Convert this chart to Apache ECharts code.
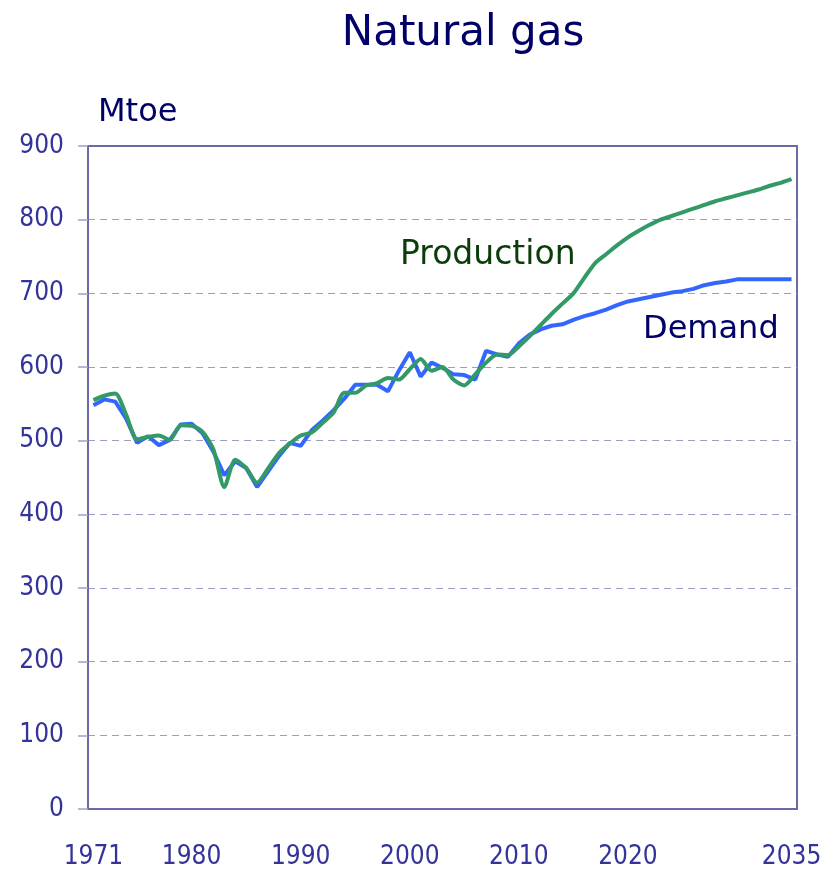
<!DOCTYPE html>
<html>
<head>
<meta charset="utf-8">
<title>Natural gas</title>
<script src="https://cdn.jsdelivr.net/npm/echarts@6/dist/echarts.min.js"></script>
<style>
  html, body { margin: 0; padding: 0; background: #fff; }
  #chart { width: 830px; height: 870px; }
</style>
</head>
<body>
<div id="chart"></div>
<script>
// years on the category axis
const years = [
  1971, 1972, 1973, 1974, 1975, 1976, 1977, 1978, 1979, 1980,
  1981, 1982, 1983, 1984, 1985, 1986, 1987, 1988, 1989, 1990,
  1991, 1992, 1993, 1994, 1995, 1996, 1997, 1998, 1999, 2000,
  2001, 2002, 2003, 2004, 2005, 2006, 2007, 2008, 2009, 2010,
  2011, 2012, 2013, 2014, 2015, 2016, 2017, 2018, 2019, 2020,
  2021, 2022, 2023, 2024, 2025, 2026, 2027, 2028, 2029, 2030,
  2031, 2032, 2033, 2034, 2035
];
const yearLabels = [1971, 1980, 1990, 2000, 2010, 2020, 2035];

// Mtoe
const demand = [
  548, 556, 553, 530, 497, 506, 494, 501, 522, 523,
  510, 485, 453, 472, 463, 437, 458, 479, 497, 493,
  514, 527, 541, 557, 576, 576, 576, 567, 595, 620,
  587, 606, 599, 590, 589, 583, 622, 617, 614, 632,
  644, 651, 656, 658, 664, 669, 673, 678, 684, 689,
  692, 695, 698, 701, 703, 706, 711, 714, 716, 719,
  719, 719, 719, 719, 719
];
const production = [
  555, 561, 564, 535, 502, 505, 507, 501, 521, 520,
  512, 488, 437, 474, 463, 443, 462, 483, 496, 507,
  511, 524, 538, 565, 565, 575, 578, 585, 583, 597,
  611, 595, 600, 583, 575, 590, 606, 617, 616, 628,
  642, 657, 672, 686, 700, 721, 741, 753, 765, 776,
  785, 793, 800, 805, 810, 815, 820, 825, 829, 833,
  837, 841, 846, 850, 855
];
const yTicks = { min: 0, max: 900, interval: 100 };

const chart = echarts.init(document.getElementById("chart"));

const font = "'DejaVu Sans', sans-serif";
const narrow = "'DejaVu Sans Condensed', 'DejaVu Sans', sans-serif";

const option = {
  animation: false,
  backgroundColor: "#ffffff",
  title: {
    text: "Natural gas",
    left: 458,
    top: 8,
    textAlign: "center",
    textStyle: {
      fontFamily: font,
      fontSize: 42,
      fontWeight: "normal",
      color: "#000066",
    },
  },
  grid: {
    left: 88,
    right: 33,
    top: 146,
    bottom: 60,
    show: true,
    borderColor: "#6a6aa6",
    borderWidth: 2,
    backgroundColor: "transparent",
  },
  xAxis: {
    type: "category",
    data: years,
    boundaryGap: true,
    axisLine: { lineStyle: { color: "#6a6aa6", width: 2 } },
    axisTick: { show: false },
    axisLabel: {
      interval: (idx, val) => yearLabels.includes(Number(val)),
      margin: 35,
      fontFamily: narrow,
      fontSize: 26,
      color: "#333399",
    },
    splitLine: { show: false },
  },
  yAxis: {
    type: "value",
    min: yTicks.min,
    max: yTicks.max,
    interval: yTicks.interval,
    axisLine: { show: true, lineStyle: { color: "#6a6aa6", width: 2 } },
    axisTick: { show: true, length: 10, lineStyle: { color: "#a0a0c8", width: 1.5 } },
    axisLabel: {
      margin: 24,
      fontFamily: narrow,
      fontSize: 26,
      color: "#333399",
    },
    splitLine: {
      show: true,
      showMaxLine: false,
      lineStyle: { color: "#9c9cc4", type: [7, 5], width: 1 },
    },
  },
  graphic: [
    {
      type: "text",
      left: 98,
      top: 97,
      style: { text: "Mtoe", font: "32px " + font, fill: "#000066" },
    },
    {
      type: "text",
      left: 400,
      top: 239,
      style: { text: "Production", font: "33px " + font, fill: "#0b3d0b" },
    },
    {
      type: "text",
      left: 643,
      top: 314,
      style: { text: "Demand", font: "32px " + font, fill: "#000066" },
    },
  ],
  series: [
    {
      name: "Demand",
      type: "line",
      data: demand,
      showSymbol: false,
      lineStyle: { color: "#3366ff", width: 4 },
      itemStyle: { color: "#3366ff" },
    },
    {
      name: "Production",
      type: "line",
      data: production,
      showSymbol: false,
      smooth: 0.25,
      lineStyle: { color: "#339966", width: 4 },
      itemStyle: { color: "#339966" },
    },
  ],
};

chart.setOption(option);
</script>
</body>
</html>
